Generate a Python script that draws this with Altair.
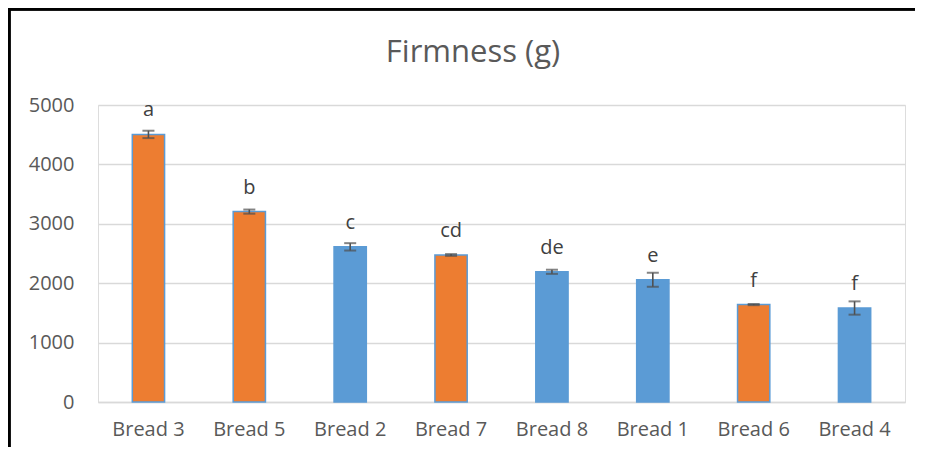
import altair as alt
import pandas as pd

categories = ["Bread 3", "Bread 5", "Bread 2", "Bread 7", "Bread 8", "Bread 1", "Bread 6", "Bread 4"]
firmness = [4505, 3205, 2612, 2475, 2192, 2058, 1640, 1582]
errors = [62, 35, 62, 15, 35, 118, 10, 112]
letters = ["a", "b", "c", "cd", "de", "e", "f", "f"]
groups = ["orange", "orange", "blue", "orange", "blue", "blue", "orange", "blue"]
chart_title = ["Firmness (g)"]

df = pd.DataFrame({
    "cat": categories,
    "val": firmness,
    "err": errors,
    "letter": letters,
    "grp": groups,
})
df["lo"] = df["val"] - df["err"]
df["hi"] = df["val"] + df["err"]

FONT = "Open Sans"
TXT = "#595959"

x = alt.X("cat:N", sort=categories, title=None,
          scale=alt.Scale(paddingInner=0.68, paddingOuter=0.34),
          axis=alt.Axis(labelAngle=0, labelFont=FONT, labelFontSize=20, labelColor=TXT,
                        labelPadding=17, ticks=False, domainColor="#D9D9D9", domainWidth=1.5))

base = alt.Chart(df).encode(x=x)

bars = base.mark_bar(stroke="#5B9BD5", strokeWidth=1.5).encode(
    y=alt.Y("val:Q", title=None,
            scale=alt.Scale(domain=[0, 5000], nice=False),
            axis=alt.Axis(values=[0, 1000, 2000, 3000, 4000, 5000], format="d", labelFont=FONT,
                          labelFontSize=20, labelColor=TXT, labelPadding=24, ticks=False, domain=False,
                          gridColor="#D9D9D9", gridWidth=1.5)),
    color=alt.Color("grp:N", scale=alt.Scale(domain=["orange", "blue"], range=["#ED7D31", "#5B9BD5"]),
                    legend=None),
)

rules = base.mark_rule(color="#505050", strokeWidth=1.6).encode(y="lo:Q", y2="hi:Q")
cap_lo = base.mark_tick(color="#505050", thickness=2, size=12).encode(y="lo:Q")
cap_hi = base.mark_tick(color="#505050", thickness=2, size=12).encode(y="hi:Q")

labels = base.mark_text(font=FONT, fontSize=20, color="#404040", baseline="alphabetic", dy=-18).encode(
    y="val:Q", text="letter:N")

title_mark = alt.Chart(pd.DataFrame({"t": chart_title})).mark_text(
    font=FONT, fontSize=31, color=TXT, baseline="alphabetic", align="center").encode(
    text="t:N", x=alt.value(375), y=alt.value(-43))

border_left = alt.Chart(df).mark_rule(color="black", strokeWidth=2.5).encode(
    x=alt.value(-89), y=alt.value(-97), y2=alt.value(360))
border_top = alt.Chart(df).mark_rule(color="black", strokeWidth=2.5).encode(
    x=alt.value(-90), x2=alt.value(830), y=alt.value(-96))

chart = alt.layer(bars, rules, cap_lo, cap_hi, labels, title_mark, border_left, border_top).properties(
    width=807, height=297,
    autosize=alt.AutoSizeParams(type="none"),
    padding={"left": 90, "top": 97, "right": 10, "bottom": 45},
).configure_view(stroke=None).configure(background="white")

chart.save("out.html", embed_options={"renderer": "svg", "actions": False})
